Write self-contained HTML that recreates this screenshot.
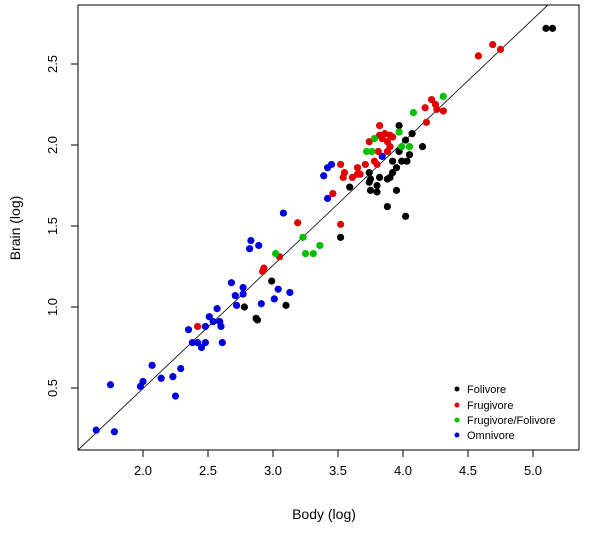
<!DOCTYPE html>
<html><head><meta charset="utf-8"><style>
body{margin:0;background:#fff;}
svg text{font-family:"Liberation Sans",Arial,sans-serif;fill:#000;}
</style></head><body>
<svg id="chart" width="611" height="530" xmlns="http://www.w3.org/2000/svg">
<rect x="78" y="5" width="501" height="445" fill="none" stroke="#000" stroke-width="1"/>
<g id="axes"></g>
<g id="marks"></g>
<text x="324" y="519" font-size="14" text-anchor="middle">Body (log)</text>
<text x="0" y="0" font-size="14" text-anchor="middle" transform="translate(20,228) rotate(-90)">Brain (log)</text>
<g>
<circle cx="457" cy="389" r="2.5" fill="#000"/>
<text x="467" y="393" font-size="11">Folivore</text>
<circle cx="457" cy="405" r="2.5" fill="#e00000"/>
<text x="467" y="409" font-size="11">Frugivore</text>
<circle cx="457" cy="420" r="2.5" fill="#00c000"/>
<text x="467" y="424" font-size="11">Frugivore/Folivore</text>
<circle cx="457" cy="435" r="2.5" fill="#0000dd"/>
<text x="467" y="439" font-size="11">Omnivore</text>
</g>
</svg>
<script>
const xTicks=[2.0,2.5,3.0,3.5,4.0,4.5,5.0];
const yTicks=[0.5,1.0,1.5,2.0,2.5];
const fitLine=[-1.023,0.76];
const folivoreX=[3.97,4.07,4.02,3.97,4.05,4.15,3.92,3.99,4.03,3.95,3.92,3.90,3.88,3.74,3.75,3.82,3.74,3.80,3.75,3.80,3.59,3.95,3.88,4.02,3.52,2.99,2.78,2.87,2.88,3.10,5.10,5.15];
const folivoreY=[2.12,2.07,2.03,1.96,1.94,1.99,1.90,1.90,1.90,1.86,1.83,1.80,1.79,1.83,1.79,1.80,1.77,1.75,1.72,1.71,1.74,1.72,1.62,1.56,1.43,1.16,1.00,0.93,0.92,1.01,2.72,2.72];
const frugivoreX=[3.19,3.46,3.52,3.52,3.55,3.54,3.61,3.65,3.67,3.65,3.71,3.78,3.80,3.74,3.82,3.82,3.86,3.90,3.92,3.88,3.81,3.90,3.88,3.84,4.18,4.17,4.22,4.25,4.26,4.31,4.58,4.69,4.75,2.93,2.92,3.05,2.42];
const frugivoreY=[1.52,1.70,1.51,1.88,1.83,1.80,1.80,1.82,1.82,1.86,1.88,1.90,1.88,2.02,2.12,2.06,2.07,2.06,2.05,2.02,1.96,1.99,1.96,2.04,2.14,2.23,2.28,2.25,2.22,2.21,2.55,2.62,2.59,1.24,1.22,1.31,0.88];
const mixedX=[3.02,3.23,3.25,3.31,3.36,4.31,4.08,3.97,3.78,3.72,3.76,4.05,3.99];
const mixedY=[1.33,1.43,1.33,1.33,1.38,2.30,2.20,2.08,2.04,1.96,1.96,1.99,1.99];
const omnivoreX=[3.08,2.83,2.82,2.89,2.68,2.77,2.71,2.77,2.72,2.91,3.04,3.01,3.13,2.57,2.51,2.54,2.59,2.60,2.48,2.35,2.38,2.42,2.45,2.48,2.61,2.07,2.00,1.98,2.14,2.23,2.29,2.25,1.75,1.64,1.78,3.45,3.42,3.39,3.42,3.84];
const omnivoreY=[1.58,1.41,1.36,1.38,1.15,1.12,1.07,1.08,1.01,1.02,1.11,1.05,1.09,0.99,0.94,0.91,0.91,0.88,0.88,0.86,0.78,0.78,0.75,0.78,0.78,0.64,0.54,0.51,0.56,0.57,0.62,0.45,0.52,0.24,0.23,1.88,1.86,1.81,1.67,1.93];

const X=v=>143+(v-2)*130;
const Y=v=>388-(v-0.5)*162;
const NS="http://www.w3.org/2000/svg";
const axes=document.getElementById('axes');
const marks=document.getElementById('marks');
function mk(tag,attrs,parent){const e=document.createElementNS(NS,tag);for(const k in attrs)e.setAttribute(k,attrs[k]);parent.appendChild(e);return e;}
xTicks.forEach(t=>{
  const l=mk('line',{x1:X(t),x2:X(t),y1:450,y2:457,stroke:'#000'},axes);
  
  
  const tx=mk('text',{x:X(t),y:475,'font-size':13,'text-anchor':'middle'},axes);
  tx.textContent=t.toFixed(1);
  
  
});
yTicks.forEach(t=>{
  const l=mk('line',{x1:71,x2:78,y1:Y(t),y2:Y(t),stroke:'#000'},axes);
  
  
  const tx=mk('text',{x:0,y:0,'font-size':13,'text-anchor':'middle',transform:`translate(57,${Y(t)}) rotate(-90)`},axes);
  tx.textContent=t.toFixed(1);
  
  
});
const xa=1.5,xb=5.115;
const fl=mk('line',{x1:X(xa),y1:Y(fitLine[0]+fitLine[1]*xa),x2:X(xb),y2:Y(fitLine[0]+fitLine[1]*xb),stroke:'#000','stroke-width':0.8},marks);


function series(xs,ys,color,name){
  xs.forEach((v,i)=>{
    const c=mk('circle',{cx:X(v),cy:Y(ys[i]),r:3.6,fill:color},marks);
    
    
  });
}
series(omnivoreX,omnivoreY,'#0000dd','point-omnivore');
series(folivoreX,folivoreY,'#000000','point-folivore');
series(frugivoreX,frugivoreY,'#e00000','point-frugivore');
series(mixedX,mixedY,'#00c000','point-frugivore-folivore');
</script>
</body></html>
